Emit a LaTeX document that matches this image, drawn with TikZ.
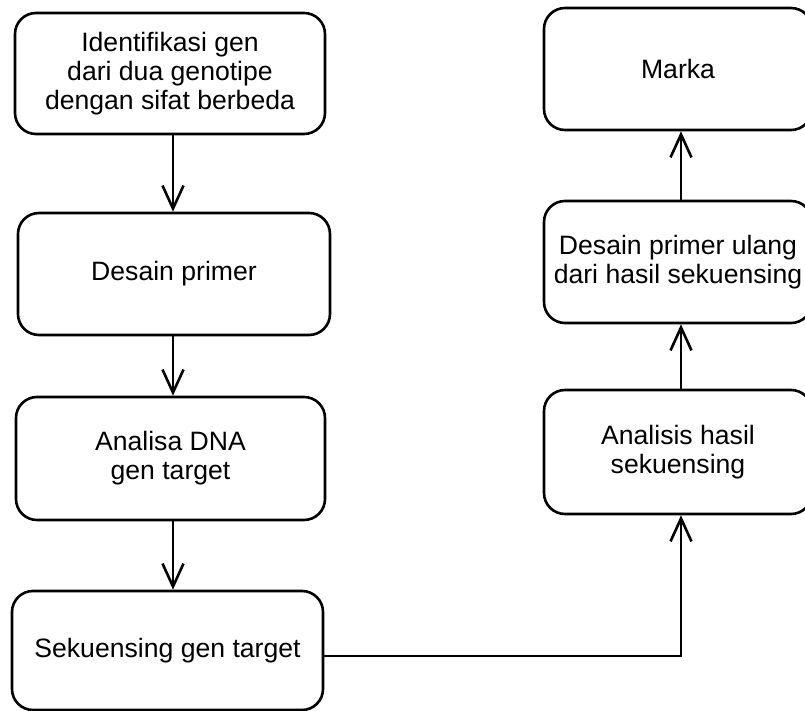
\documentclass[tikz,border=0pt]{standalone}
\usepackage{fontspec}
\setmainfont{Liberation Sans}
\usetikzlibrary{arrows.meta}
\begin{document}
\begin{tikzpicture}[x=1pt,y=-1pt,
  box/.style={draw, line width=2.6pt, rounded corners=21pt, align=center, inner sep=0pt,
    font=\fontsize{26.6}{29}\selectfont},
  arr/.style={line width=2.6pt, -{Straight Barb[length=23pt,width=21pt]}}]
\useasboundingbox (0,0) rectangle (805,711);
% left column
\node[box, minimum width=310pt, minimum height=121pt] (b1) at (170,73.5) {Identifikasi gen\\dari dua genotipe\\dengan sifat berbeda};
\node[box, minimum width=312pt, minimum height=122pt] (b2) at (174,274) {Desain primer};
\node[box, minimum width=309pt, minimum height=123pt] (b3) at (170.5,458.5) {Analisa DNA\\gen target};
\node[box, minimum width=311pt, minimum height=119pt] (b4) at (167.5,650.5) {Sekuensing gen target};
% right column
\node[box, minimum width=268pt, minimum height=122pt] (b5) at (678,69) {Marka};
\node[box, minimum width=268pt, minimum height=122pt] (b6) at (678,262) {Desain primer ulang\\dari hasil sekuensing};
\node[box, minimum width=268pt, minimum height=124pt] (b7) at (678,452) {Analisis hasil\\sekuensing};
% connector guides
\coordinate (lx) at (173,0);
\coordinate (rx) at (681,0);
\coordinate (ly) at (0,656);
\draw[arr] (b1.south -| lx) -- (b2.north -| lx);
\draw[arr] (b2.south -| lx) -- (b3.north -| lx);
\draw[arr] (b3.south -| lx) -- (b4.north -| lx);
\draw[arr] (b4.east |- ly) -- (ly -| rx) -- (b7.south -| rx);
\draw[arr] (b7.north -| rx) -- (b6.south -| rx);
\draw[arr] (b6.north -| rx) -- (b5.south -| rx);
\end{tikzpicture}
\end{document}
